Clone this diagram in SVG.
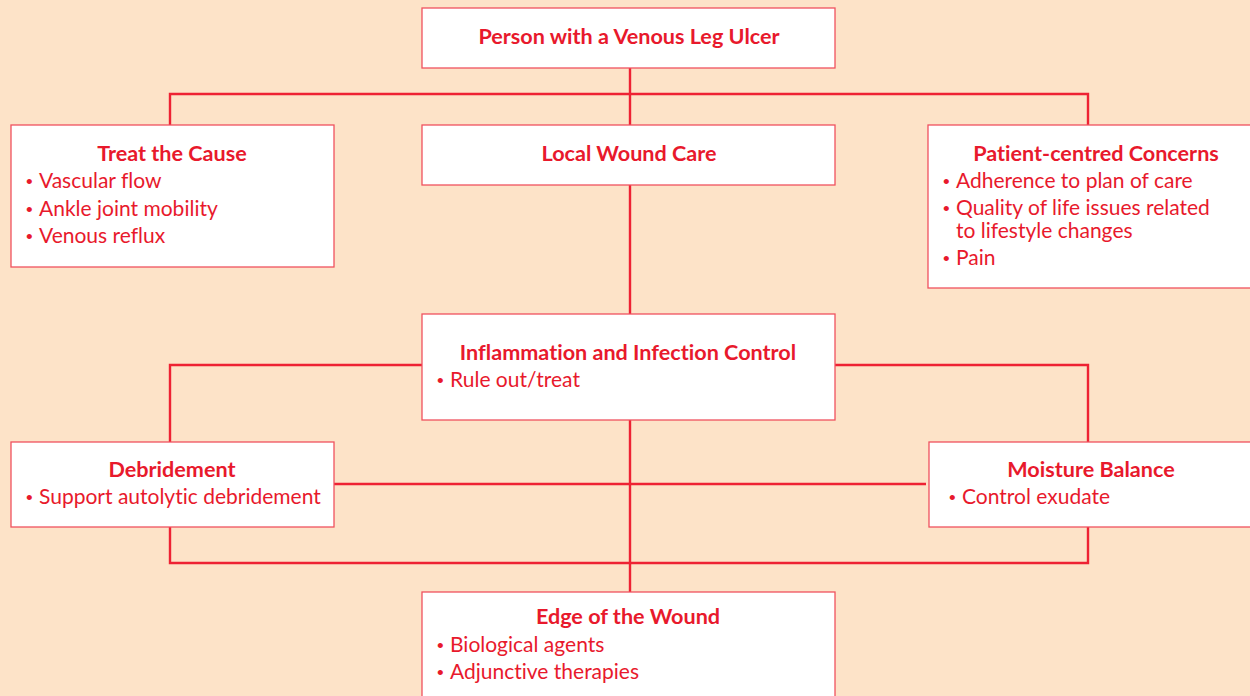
<svg xmlns="http://www.w3.org/2000/svg" width="1250" height="696" viewBox="0 0 1250 696">
<style>
.bg{fill:#fde3c8}
.box{fill:#ffffff;stroke:#f0525f;stroke-width:1.3}
.ln{fill:none;stroke:#ee2233;stroke-width:2.4}
text{font-family:Lato,"Liberation Sans",sans-serif;fill:#e8192c;font-size:21px;font-variant-ligatures:none;font-feature-settings:"liga" 0,"clig" 0}
.t{font-weight:bold;text-anchor:middle;font-size:21.6px}
.b{font-family:"Liberation Sans",sans-serif;font-size:19px}
</style>
<rect class="bg" x="0" y="0" width="1250" height="696"/>
<g id="connectors">
<path class="ln" d="M630 68V125M170 125V94H1088V125"/>
<path class="ln" d="M630 185V314"/>
<path class="ln" d="M422 365H170V442M835 365H1088V442"/>
<path class="ln" d="M630 420V592"/>
<path class="ln" d="M334 484H926"/>
<path class="ln" d="M170 527V563H1088V527"/>
</g>
<g id="n-person">
<rect class="box" x="422" y="8" width="413" height="60"/>
<text class="t" x="629" y="44">Person with a Venous Leg Ulcer</text>
</g>
<g id="n-local">
<rect class="box" x="422" y="125" width="413" height="60"/>
<text class="t" x="629" y="161">Local Wound Care</text>
</g>
<g id="n-cause">
<rect class="box" x="11" y="125" width="323" height="142"/>
<text class="t" x="172" y="161">Treat the Cause</text>
<text x="26" y="188"><tspan class="b">•</tspan><tspan x="39">Vascular flow</tspan></text>
<text x="26" y="216"><tspan class="b">•</tspan><tspan x="39">Ankle joint mobility</tspan></text>
<text x="26" y="243"><tspan class="b">•</tspan><tspan x="39">Venous reflux</tspan></text>
</g>
<g id="n-patient">
<rect class="box" x="928" y="125" width="340" height="163"/>
<text class="t" x="1096" y="161">Patient-centred Concerns</text>
<text x="943" y="188"><tspan class="b">•</tspan><tspan x="956">Adherence to plan of care</tspan></text>
<text x="943" y="215"><tspan class="b">•</tspan><tspan x="956">Quality of life issues related</tspan></text>
<text x="956" y="238">to lifestyle changes</text>
<text x="943" y="265"><tspan class="b">•</tspan><tspan x="956">Pain</tspan></text>
</g>
<g id="n-inflam">
<rect class="box" x="422" y="314" width="413" height="106"/>
<text class="t" x="628" y="360">Inflammation and Infection Control</text>
<text x="437" y="387"><tspan class="b">•</tspan><tspan x="450">Rule out/treat</tspan></text>
</g>
<g id="n-debride">
<rect class="box" x="11" y="442" width="323" height="85"/>
<text class="t" x="172" y="477">Debridement</text>
<text x="26" y="504"><tspan class="b">•</tspan><tspan x="39">Support autolytic debridement</tspan></text>
</g>
<g id="n-moist">
<rect class="box" x="929" y="442" width="330" height="85"/>
<text class="t" x="1091" y="477">Moisture Balance</text>
<text x="949" y="504"><tspan class="b">•</tspan><tspan x="962">Control exudate</tspan></text>
</g>
<g id="n-edge">
<rect class="box" x="422" y="592" width="413" height="120"/>
<text class="t" x="628" y="624">Edge of the Wound</text>
<text x="437" y="652"><tspan class="b">•</tspan><tspan x="450">Biological agents</tspan></text>
<text x="437" y="679"><tspan class="b">•</tspan><tspan x="450">Adjunctive therapies</tspan></text>
</g>
</svg>
